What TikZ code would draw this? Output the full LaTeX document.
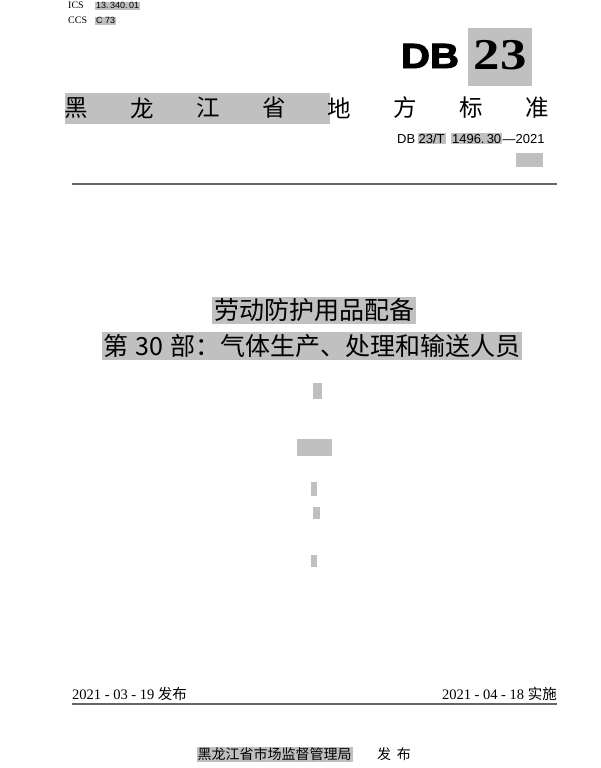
\documentclass[tikz,border=0pt]{standalone}
\usepackage{fontspec}
\setmainfont{Liberation Serif}
\setsansfont{Liberation Sans}
\newfontfamily\cjk{Noto Sans CJK SC}
\newfontface\dbfont[FakeBold=2.5]{Liberation Sans Bold}
\usetikzlibrary{positioning}
\definecolor{hlgray}{RGB}{192,192,192}

\begin{document}
\begin{tikzpicture}[x=1pt, y=-1pt,
    hl/.style={fill=hlgray, inner sep=1pt},
    txt/.style={inner sep=0pt},
    rule/.style={draw=black!60, line width=1.3pt}]
    \useasboundingbox[fill=white] (0, 0) rectangle (600, 768);
    % header codes
    \node[txt, anchor=base west, font=\fontsize{10}{10}\selectfont] (ics) at (68, 9) {ICS};
    \node[hl, anchor=base west, font=\sffamily\fontsize{9}{9}\selectfont] (icsno) at (95, 9) {13.\,340.\,01};
    \node[txt, anchor=base west, font=\fontsize{10}{10}\selectfont] (ccs) at (68, 24) {CCS};
    \node[hl, anchor=base west, font=\sffamily\fontsize{9}{9}\selectfont] (ccsno) at (95, 24) {C 73};
    % DB 23 mark
    \fill[hlgray] (468, 28) rectangle (532, 86);
    \node[txt, anchor=base, xscale=1.15, font=\dbfont\fontsize{35}{35}\selectfont] (db) at (430, 68) {DB};
    \node[txt, anchor=base, xscale=1.2, font=\bfseries\fontsize{44}{44}\selectfont] (dbno) at (500, 70) {23};
    % 黑龙江省地方标准
    \fill[hlgray] (65, 93) rectangle (330, 124);
    \foreach \c [count=\i] in {黑,龙,江,省,地,方,标,准}
        \node[txt, font=\cjk\fontsize{23.5}{23.5}\selectfont] (std\i) at ({76.5+65.8*(\i-1)}, 108) {\c};
    % standard number
    \node[txt, anchor=base west, font=\sffamily\fontsize{13}{13}\selectfont] (num1) at (397, 143) {DB};
    \node[hl, font=\sffamily\fontsize{13}{13}\selectfont, right=2pt of num1.base east, anchor=base west] (num2) {23/T};
    \node[hl, font=\sffamily\fontsize{13}{13}\selectfont, right=5pt of num2.base east, anchor=base west] (num3) {1496.\,30};
    \node[txt, font=\sffamily\fontsize{13}{13}\selectfont, right=0pt of num3.base east, anchor=base west] (num4) {—2021};
    \fill[hlgray] (516, 153) rectangle (543, 167);
    \draw[rule] (72, 184) -- (557, 184);
    % title
    \node[hl, inner sep=2pt, font=\cjk\fontsize{25}{25}\selectfont] (title1) at (314, 310.5) {劳动防护用品配备};
    \node[hl, inner sep=2pt, font=\cjk\fontsize{25}{25}\selectfont] (title2) at (312, 346) {第\hspace{7pt}30\hspace{7pt}部：气体生产、处理和输送人员};
    % blank marks
    \fill[hlgray] (313, 383) rectangle (322, 399);
    \fill[hlgray] (297, 439) rectangle (332, 456);
    \fill[hlgray] (311, 482) rectangle (317, 496);
    \fill[hlgray] (313, 507) rectangle (320, 519);
    \fill[hlgray] (311, 555) rectangle (317, 567);
    % dates
    \node[txt, anchor=base west, font=\fontsize{14.5}{14.5}\selectfont] (issue) at (72, 699) {2021 - 03 - 19 {\cjk 发布}};
    \node[txt, anchor=base east, font=\fontsize{14.5}{14.5}\selectfont] (impl) at (557, 699) {2021 - 04 - 18 {\cjk 实施}};
    \draw[rule] (72, 704) -- (557, 704);
    % issuer
    \node[hl, font=\cjk\fontsize{14}{14}\selectfont] (org) at (274.5, 754.5) {黑龙江省市场监督管理局};
    \node[txt, font=\cjk\fontsize{14}{14}\selectfont] (pub) at (394, 754.5) {发\hspace{6pt}布};
\end{tikzpicture}
\end{document}
